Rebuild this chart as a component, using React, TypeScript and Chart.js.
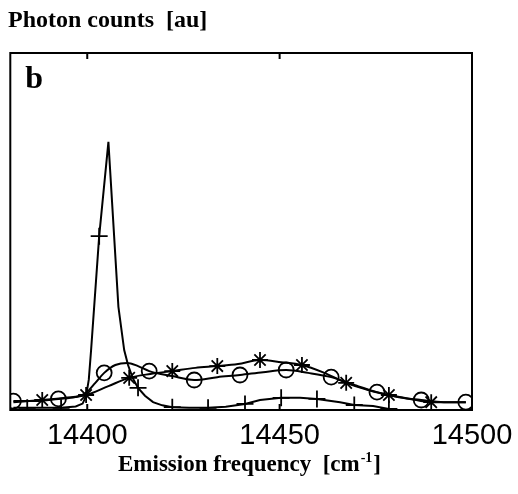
import React, { useEffect, useRef } from "react";
import { Chart, registerables } from "chart.js";
Chart.register(...registerables);

const xMin = 14380;
const xMax = 14500;
const yMin = 0;
const yMax = 100;
const tickValues = [14400, 14450, 14500];

// "+" series: sharp peak
const plusCurveX = [14380.8, 14384.4, 14393.2, 14397.0, 14398.8, 14399.7, 14400.4, 14401.0, 14403.1, 14405.5, 14408.1, 14409.6, 14410.6, 14411.8, 14413.2, 14415.0, 14417.1, 14419.5, 14422.1, 14426.5, 14431.4, 14436.0, 14441.0, 14444.9, 14450.4, 14455.3, 14459.7, 14465.7, 14469.4, 14474.3, 14478.4];
const plusCurveY = [0.6, 0.6, 0.6, 1.0, 1.8, 3.9, 8.5, 16.8, 48.7, 75.1, 28.9, 16.8, 12.6, 9.0, 6.2, 4.0, 2.2, 1.3, 0.8, 0.6, 0.6, 0.9, 1.7, 2.8, 3.4, 3.4, 3.1, 2.2, 1.4, 1.1, 0.3];
const plusMarkX = [14384.4, 14393.2, 14403.1, 14413.2, 14422.1, 14431.4, 14441.0, 14450.4, 14459.7, 14469.4, 14478.4];
const plusMarkY = [0.6, 0.6, 48.7, 6.2, 0.8, 0.6, 1.7, 3.4, 3.1, 1.4, 0.3];

// "o" series
const circCurveX = [14380.8, 14386.5, 14392.5, 14396.9, 14399.7, 14402.1, 14404.4, 14407.3, 14410.4, 14413.2, 14416.1, 14422.1, 14427.8, 14433.8, 14439.7, 14445.7, 14451.7, 14457.4, 14463.4, 14469.4, 14475.3, 14481.0, 14486.8, 14492.7, 14498.4];
const circCurveY = [2.5, 2.5, 3.1, 3.6, 4.8, 7.6, 10.4, 12.6, 13.2, 12.3, 10.9, 9.5, 8.4, 9.2, 9.8, 10.6, 11.2, 10.4, 9.2, 7.0, 5.0, 3.6, 2.8, 2.2, 2.2];
const circMarkX = [14380.8, 14392.5, 14404.4, 14416.1, 14427.8, 14439.7, 14451.7, 14463.4, 14475.3, 14486.8, 14498.4];
const circMarkY = [2.5, 3.1, 10.4, 10.9, 8.4, 9.8, 11.2, 9.2, 5.0, 2.8, 2.2];

// "*" series
const starCurveX = [14380.8, 14388.3, 14394.3, 14399.7, 14405.5, 14410.9, 14416.4, 14422.1, 14428.1, 14433.8, 14439.2, 14444.9, 14450.4, 14455.8, 14461.6, 14467.3, 14473.0, 14478.4, 14483.9, 14489.4, 14498.4];
const starCurveY = [2.2, 2.8, 3.4, 4.2, 6.7, 9.0, 10.1, 10.9, 11.8, 12.3, 12.9, 14.0, 13.4, 12.6, 10.4, 7.6, 5.6, 4.2, 3.1, 2.2, 2.2];
const starMarkX = [14388.3, 14399.7, 14410.9, 14422.1, 14433.8, 14444.9, 14455.8, 14467.3, 14478.4, 14489.4];
const starMarkY = [2.8, 4.2, 9.0, 10.9, 12.3, 14.0, 12.6, 7.6, 4.2, 2.2];

const yTitle = "Photon counts  [au]";
const panelLabel = "b";
const xTitleMain = "Emission frequency  [cm";
const xTitleSup = "-1";
const xTitleEnd = "]";

const pts = (xs: number[], ys: number[]) => xs.map((x, i) => ({ x, y: ys[i] }));

const curve = (xs: number[], ys: number[], smooth: boolean) => ({
  data: pts(xs, ys),
  showLine: true,
  borderColor: "#000",
  borderWidth: 2,
  pointRadius: 0,
  fill: false,
  tension: 0,
  cubicInterpolationMode: smooth ? ("monotone" as const) : ("default" as const),
});

const markers = (xs: number[], ys: number[], style: string, r: number) => ({
  data: pts(xs, ys),
  showLine: false,
  pointStyle: style,
  pointRadius: r,
  borderColor: "#000",
  backgroundColor: "rgba(0,0,0,0)",
  pointBorderWidth: 1.8,
  borderWidth: 1.8,
});

const decor = {
  id: "decor",
  afterDraw(chart: any) {
    const { ctx, chartArea: a, scales } = chart;
    ctx.save();
    ctx.strokeStyle = "#000";
    ctx.lineWidth = 2;
    ctx.strokeRect(a.left, a.top, a.right - a.left, a.bottom - a.top);
    for (const v of tickValues) {
      const px = scales.x.getPixelForValue(v);
      ctx.beginPath();
      ctx.moveTo(px, a.top);
      ctx.lineTo(px, a.top + 6);
      ctx.moveTo(px, a.bottom);
      ctx.lineTo(px, a.bottom - 6);
      ctx.stroke();
    }
    ctx.fillStyle = "#000";
    ctx.textBaseline = "alphabetic";
    ctx.textAlign = "left";
    ctx.font = 'bold 24px "Liberation Serif", "Times New Roman", serif';
    ctx.fillText(yTitle, 8, 27);
    ctx.font = 'bold 32px "Liberation Serif", "Times New Roman", serif';
    ctx.fillText(panelLabel, a.left + 15, a.top + 35);
    ctx.font = 'bold 23px "Liberation Serif", "Times New Roman", serif';
    let x = 118;
    ctx.fillText(xTitleMain, x, 471);
    x += ctx.measureText(xTitleMain).width;
    ctx.font = 'bold 14px "Liberation Serif", "Times New Roman", serif';
    ctx.fillText(xTitleSup, x + 1, 462);
    x += ctx.measureText(xTitleSup).width + 2;
    ctx.font = 'bold 23px "Liberation Serif", "Times New Roman", serif';
    ctx.fillText(xTitleEnd, x, 471);
    ctx.restore();
  },
};

export default function App() {
  const ref = useRef<HTMLCanvasElement | null>(null);
  useEffect(() => {
    if (!ref.current) return;
    const chart = new Chart(ref.current, {
      type: "scatter",
      data: {
        datasets: [
          curve(plusCurveX, plusCurveY, false),
          curve(circCurveX, circCurveY, true),
          curve(starCurveX, starCurveY, true),
          markers(plusMarkX, plusMarkY, "cross", 8.5),
          markers(circMarkX, circMarkY, "circle", 7.5),
          markers(starMarkX, starMarkY, "star", 8),
        ] as any,
      },
      options: {
        animation: false,
        responsive: false,
        devicePixelRatio: 1,
        layout: { padding: { left: 10, top: 53, right: 46, bottom: 0 } },
        plugins: { legend: { display: false }, tooltip: { enabled: false } },
        scales: {
          x: {
            type: "linear",
            min: xMin,
            max: xMax,
            grid: { display: false },
            border: { display: false },
            afterBuildTicks: (s: any) => {
              s.ticks = tickValues.map((v) => ({ value: v }));
            },
            afterFit: (s: any) => {
              s.height = 84;
              s.paddingLeft = 0;
              s.paddingRight = 0;
            },
            ticks: {
              autoSkip: false,
              maxRotation: 0,
              padding: 1,
              color: "#000",
              font: { family: '"Liberation Sans", Arial, sans-serif', size: 29 },
              callback: (v: any) => String(v),
            },
          },
          y: { display: false, min: yMin, max: yMax },
        },
      },
      plugins: [decor],
    });
    return () => chart.destroy();
  }, []);
  return (
    <div style={{ position: "fixed", left: 0, top: 0, width: 518, height: 494, background: "#fff" }}>
      <canvas ref={ref} width={518} height={494} style={{ display: "block" }} />
    </div>
  );
}
